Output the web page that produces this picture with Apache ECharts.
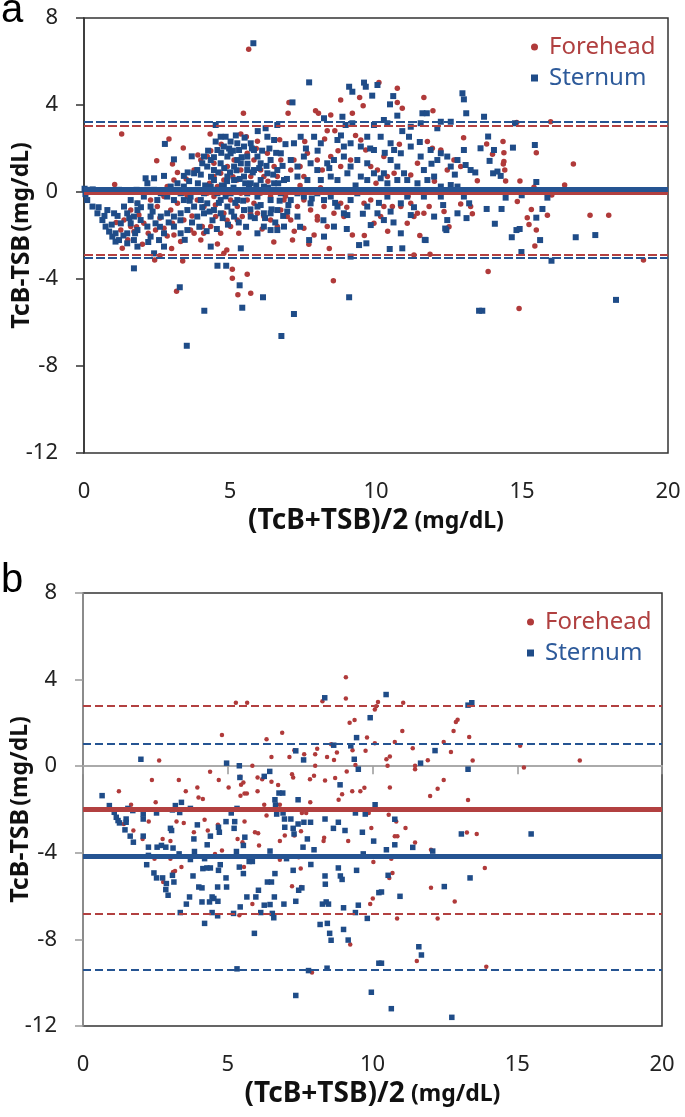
<!DOCTYPE html>
<html>
<head>
<meta charset="utf-8">
<script src="https://cdn.jsdelivr.net/npm/echarts@6/dist/echarts.min.js"></script>
<style>
  html, body { margin: 0; padding: 0; background: #fff; }
  #chart { width: 685px; height: 1117px; }
</style>
</head>
<body>
<div id="chart"></div>
<script>
// panel a: mean difference vs. mean value, all infants
var foreheadA = [
  [1.29, 2.67], [1.05, 0.34], [5.46, 3.62], [2.91, 2.44], [3.40, 2.02], [2.49, 1.44], [3.03, 1.29], [4.32, 2.67],
  [4.34, 1.90], [5.37, 2.67], [5.94, 2.33], [5.56, 2.54], [1.31, -2.59], [2.42, -3.13], [2.60, -2.93], [3.38, -3.17],
  [3.17, -4.56], [3.31, -2.28], [4.89, -2.67], [4.79, -2.82], [5.08, -3.55], [5.08, -3.97], [5.59, -3.78], [5.71, -4.66],
  [5.27, -4.72], [4.57, -2.39], [5.64, 6.56],
  [1.37, -1.29], [1.60, -1.59], [1.26, -1.75], [1.71, -1.82], [1.88, -1.06], [2.05, -1.44], [2.28, -1.13], [2.45, -1.75],
  [2.74, -1.67], [2.85, -2.02], [3.03, -1.44], [3.08, -1.98], [3.42, -1.29], [3.65, -1.75], [3.77, -1.90], [4.00, -2.21],
  [4.05, -1.59], [4.34, -1.59], [4.51, -1.13], [4.68, -1.90], [4.79, -0.98], [5.02, -1.59], [5.25, -1.29], [5.42, -1.13],
  [5.94, -0.98], [6.16, -1.13], [6.39, -1.29], [6.62, -1.59], [6.74, -0.83],
  [3.42, -0.06], [3.54, -0.21], [3.77, 0.02], [3.88, -0.37], [4.11, -0.67], [4.22, -0.06], [4.45, -0.21], [4.57, 0.25],
  [4.79, 0.02], [5.02, -0.37], [5.25, -0.67], [5.37, -0.06], [5.59, -0.37], [5.82, -0.52], [6.05, -0.06], [6.39, -0.21],
  [6.62, 0.09], [6.85, -0.37],
  [3.77, 1.01], [4.00, 1.47], [4.22, 1.63], [4.45, 1.32], [4.68, 0.86], [4.91, 1.17], [5.14, 1.47], [5.37, 1.01],
  [5.59, 1.78], [5.82, 1.47], [6.05, 1.01], [6.28, 1.78], [6.51, 1.17], [6.74, 1.47], [4.45, 0.71], [4.79, 0.55],
  [5.25, 0.55], [5.71, 0.71], [6.16, 0.71], [6.62, 0.71],
  [2.05, 0.09], [2.28, -0.37], [2.51, -0.67], [2.74, -0.21], [2.97, -0.83], [3.20, -0.52], [1.83, -0.52], [1.60, -0.83],
  [2.85, 0.25], [3.08, 0.55], [0.30, 0.02], [0.55, 0.08],
  [3.50, 0.60], [3.70, -1.10], [3.90, 1.70], [4.10, -1.90], [4.30, 0.40], [4.50, -0.60], [4.70, 2.20], [4.90, -1.30],
  [5.10, 0.70], [5.30, -1.90], [5.50, 0.10], [5.70, -1.00], [5.90, 2.00], [6.10, -1.70], [6.30, 0.50], [6.50, -2.30],
  [6.70, 2.40], [6.90, -0.20], [2.20, -1.90], [2.60, -1.20], [3.00, -2.60], [3.20, 0.90], [2.00, -2.40], [1.80, -1.60],
  [1.50, -2.20], [1.10, -1.40], [7.20, -1.80], [7.40, 0.30], [7.70, -2.40], [8.10, 0.20], [8.40, -2.60], [8.70, 1.90],
  [9.00, -0.70], [9.30, 2.60], [9.60, -2.00], [10.00, 0.40], [10.40, -1.80], [10.80, 2.20], [11.10, -0.20], [11.50, -2.00],
  [12.00, 0.50], [12.50, -1.60], [13.00, 2.50], [13.30, -1.00],
  [7.02, 4.12], [6.99, 3.62], [7.93, 3.74], [8.03, 3.62], [8.79, 4.23], [9.44, 4.35], [9.56, 3.97], [10.10, 5.03],
  [10.73, 4.77], [10.73, 4.12], [10.90, 3.85], [11.64, 4.35], [11.95, 3.74], [8.45, 3.54], [9.19, 3.62], [8.59, 2.82],
  [8.33, 2.82], [8.24, 2.44],
  [7.56, 2.32], [7.65, 1.78], [7.19, 1.47], [7.08, 1.01], [7.40, 1.17], [7.53, 0.71], [7.99, 1.47], [8.16, 1.01],
  [8.45, 1.63], [8.79, 1.17], [9.13, 1.47], [9.48, 2.39], [9.65, 1.93], [9.82, 1.17], [10.05, 1.01], [10.27, 1.63],
  [10.39, 0.71], [10.62, 0.86], [11.19, 0.78], [11.42, 1.32], [11.76, 2.32], [11.93, 2.01], [12.22, 1.93], [12.44, 1.01],
  [12.67, 1.47], [12.90, 1.17], [13.47, 0.52],
  [6.96, -1.13], [7.08, -1.29], [7.31, -0.67], [7.53, -0.37], [7.76, -0.83], [7.99, -1.13], [8.22, -0.67], [8.33, -1.59],
  [8.56, -0.98], [8.79, -0.52], [8.90, -1.13], [9.19, -1.98], [9.59, -0.52], [9.82, -0.37], [9.93, -1.44], [10.16, -1.13],
  [10.27, -0.67], [10.56, -0.67], [10.85, -0.67], [11.07, -1.44], [11.19, -0.52], [11.30, -1.13], [11.42, -0.98], [11.64, -0.98],
  [11.82, -0.67], [12.33, -0.90], [12.90, -0.55], [13.24, -0.67], [7.14, -2.21], [7.53, -1.67], [7.88, -1.98], [7.99, -1.29],
  [8.54, -4.08], [11.85, -2.86], [11.30, -2.90],
  [13.79, 2.21], [14.35, 2.32], [13.99, 1.73], [14.38, 1.81], [14.38, 1.40], [14.36, 1.29], [14.41, 1.01], [14.44, 0.51],
  [14.93, 0.51], [15.49, 1.81], [15.41, 0.22], [16.46, 0.32], [16.76, 1.29], [14.82, 3.19], [15.98, 3.23], [14.84, -0.44],
  [15.32, -0.80], [15.18, -1.18], [15.24, -1.49], [15.49, -1.75], [15.87, -1.07], [15.44, -2.48], [16.02, -0.14], [17.33, -1.07],
  [17.97, -1.07], [19.16, -3.13], [13.84, -3.66], [14.90, -5.36], [14.78, 0.02]
];
var sternumA = [
  [5.80, 6.84], [3.52, -7.07], [4.12, -5.46], [3.28, -4.38], [5.33, -4.29], [5.42, -5.32], [6.13, -4.84], [6.76, -6.62],
  [1.71, -3.51], [4.57, -3.39], [4.87, -3.39], [0.02, 0.15], [0.10, 0.10], [0.20, 0.05], [0.30, 0.12], [0.05, -0.10],
  [2.77, 2.21], [3.08, 1.50], [3.69, 1.64], [2.11, 0.63], [2.40, 0.63], [2.74, 0.74], [3.42, 0.74], [3.77, 0.86],
  [4.05, 1.32], [4.34, 1.47], [4.51, 2.32], [4.68, 2.54], [4.85, 2.54], [5.02, 2.32], [5.25, 2.24], [5.31, 1.93],
  [5.48, 2.09], [5.71, 2.24], [5.59, 1.63], [5.94, 1.63], [6.28, 2.54], [6.51, 2.39], [6.62, 3.08], [6.22, 2.93], [4.51, 3.08],
  [0.11, -0.37], [0.29, -0.67], [0.46, -0.98], [0.63, -1.29], [0.74, -1.59], [0.86, -1.82], [0.97, -2.05], [1.08, -2.28],
  [1.20, -2.21], [0.80, -0.83], [1.03, -0.98], [1.37, -0.67], [1.48, -0.98], [1.71, -1.13], [1.83, -0.83], [1.26, -1.44],
  [1.60, -1.44], [1.94, -1.29], [2.17, -1.59], [1.08, -1.90], [1.48, -1.90], [1.83, -1.75], [2.28, -1.13], [2.45, -1.44],
  [2.63, -1.13], [2.85, -0.98], [3.08, -1.13], [3.31, -0.98], [1.48, -2.36], [1.71, -2.21], [1.83, -2.51], [2.28, -2.05],
  [2.57, -2.21], [2.74, -1.90], [3.08, -1.59], [3.31, -1.90], [3.54, -1.75], [2.74, -2.51], [2.40, -2.82], [4.34, -2.51],
  [5.37, -2.59], [5.94, -1.90], [6.16, -1.59], [6.39, -1.75], [6.62, -1.75], [6.85, -1.59],
  [3.31, -0.06], [3.42, -0.37], [3.65, -0.21], [3.77, -0.67], [3.88, 0.09], [4.00, -0.37], [4.11, -0.06], [4.22, -0.52],
  [4.34, 0.25], [4.45, 0.55], [4.57, -0.06], [4.68, -0.37], [4.79, 0.25], [4.91, 0.71], [5.02, -0.06], [5.14, 0.55],
  [5.25, -0.37], [5.37, 0.09], [5.48, 0.71], [5.59, -0.06], [5.71, 0.40], [5.82, 1.01], [5.94, -0.21], [6.05, 0.55],
  [6.16, 0.25], [6.28, 0.86], [6.39, -0.37], [6.51, 0.40], [6.62, 1.01], [6.74, -0.06], [6.85, 0.55], [3.54, -0.83],
  [3.88, -1.13], [4.11, -0.98], [4.45, -0.83], [4.68, -0.98], [4.91, -0.67], [5.14, -1.13], [5.48, -0.83], [5.71, -1.13],
  [5.94, -0.67], [6.16, -0.98], [6.39, -0.98], [6.62, -0.83], [4.45, 1.01], [4.68, 1.32], [4.91, 1.63], [5.14, 1.17],
  [5.37, 1.32], [5.59, 1.01], [5.82, 1.93], [6.05, 1.32], [6.39, 1.47], [6.74, 1.78], [4.57, 1.93], [4.79, 2.09],
  [5.02, 1.78], [5.25, 1.47], [3.88, 1.01], [4.11, 1.63], [4.22, 1.17], [2.63, -0.06], [2.85, -0.21], [2.97, 0.25],
  [3.08, -0.37], [3.20, 0.40], [2.28, -0.67], [2.51, -0.37], [2.05, -0.21], [1.83, -0.52], [1.60, -0.37], [2.17, 0.40],
  [3.42, 0.25],
  [3.60, 0.50], [3.70, -1.40], [3.90, 0.40], [3.95, -1.60], [4.00, 0.80], [4.05, -0.70], [4.15, 0.30], [4.20, -1.80],
  [4.25, 1.90], [4.30, -0.90], [4.35, 0.70], [4.40, -1.30], [4.45, 1.60], [4.50, 0.10], [4.55, -1.70], [4.60, 0.90],
  [4.62, -0.50], [4.70, 1.80], [4.72, 0.30], [4.75, -1.20], [4.80, 1.10], [4.85, -0.20], [4.90, 0.50], [4.93, -1.50],
  [4.97, 2.00], [5.00, 0.90], [5.05, -0.90], [5.10, 1.90], [5.12, 0.20], [5.18, -0.50], [5.20, 2.60], [5.22, 1.00],
  [5.30, -1.40], [5.33, 0.60], [5.40, 1.60], [5.45, -0.40], [5.50, 2.50], [5.52, 0.40], [5.55, -1.60], [5.60, 1.30],
  [5.65, 0.20], [5.70, -0.80], [5.75, 2.00], [5.78, 0.90], [5.85, -1.20], [5.90, 0.30], [5.95, 2.80], [6.00, 1.10],
  [6.05, -0.60], [6.10, 1.90], [6.12, 0.00], [6.20, -1.20], [6.25, 1.20], [6.30, 0.20], [6.35, 2.00], [6.42, -0.80],
  [6.48, 0.80], [6.55, -1.40], [6.58, 1.80], [6.65, 0.40], [6.70, -0.40], [6.80, 1.20], [6.82, -1.10], [6.90, 2.20],
  [6.95, 0.60], [7.00, -0.60], [3.30, -1.30], [3.45, -2.20], [3.55, 0.90], [3.62, -0.40], [2.90, -1.40], [2.60, -1.60],
  [2.35, -0.90], [2.20, -2.30], [1.95, -0.70], [1.75, -1.90], [1.55, -1.20], [1.35, -2.00], [1.15, -1.10], [0.95, -1.50],
  [0.70, -1.10], [0.50, -0.70], [0.60, 0.05], [0.90, 0.05], [1.20, 0.10], [1.50, 0.05], [1.80, 0.10], [2.10, 0.08],
  [2.40, 0.10], [7.40, -1.60], [7.60, 2.00], [7.80, -0.30], [8.00, 1.90], [8.20, -1.30], [8.40, 1.10], [8.60, -0.50],
  [8.80, 2.60], [9.00, -1.70], [9.30, 0.30], [9.55, -1.00], [9.80, 2.00], [10.10, -0.50], [10.30, 1.80], [10.60, -1.40],
  [10.90, 2.80], [11.30, -0.70], [11.50, 2.30], [11.90, 1.30], [12.30, -0.60], [12.70, 0.80], [13.10, -1.20], [13.40, 0.90],
  [7.71, 5.04], [9.08, 4.84], [9.19, 4.61], [9.59, 5.03], [9.65, 4.84], [10.05, 4.92], [9.87, 4.43], [10.59, 4.41],
  [10.48, 4.03], [10.73, 3.51], [11.59, 3.62], [11.74, 3.62], [12.96, 4.54], [13.01, 4.26], [13.09, 3.62], [7.14, 4.12],
  [8.85, 3.46], [8.22, 3.39], [8.96, 3.08], [9.19, 3.16], [9.93, 3.08], [10.27, 3.31], [10.39, 3.16], [11.19, 3.00],
  [11.53, 3.16], [12.22, 3.23], [12.56, 3.23], [12.10, 2.93], [13.58, 2.01], [13.01, 1.93],
  [7.19, 2.24], [7.42, 2.54], [7.88, 2.54], [8.11, 2.24], [8.68, 2.39], [8.90, 2.09], [9.13, 2.24], [9.48, 2.09],
  [9.70, 2.54], [9.93, 1.93], [10.16, 2.54], [10.50, 2.24], [10.62, 1.93], [10.85, 1.78], [11.13, 2.54], [11.19, 2.09],
  [11.53, 1.63], [11.87, 1.93], [12.10, 1.47], [12.22, 1.78], [12.44, 1.63], [12.56, 1.17], [12.79, 1.47], [13.07, 1.24],
  [13.24, 1.01], [7.08, 1.47], [7.31, 1.17], [7.53, 1.63], [7.76, 1.32], [7.99, 1.01], [8.33, 1.32], [8.56, 1.47],
  [8.90, 1.63], [9.13, 1.17], [9.36, 1.47], [9.70, 1.32], [9.93, 0.86], [10.27, 0.86], [10.50, 1.47], [10.73, 1.17],
  [10.96, 0.86], [11.64, 1.01], [11.99, 0.71], [7.31, 0.71], [7.65, 0.55], [8.11, 0.55], [8.45, 0.71], [8.68, 0.55],
  [9.02, 0.86], [9.48, 0.71], [9.70, 0.55], [10.16, 0.63], [10.39, 0.40], [10.73, 0.55], [11.07, 0.55], [11.42, 0.40],
  [11.76, 0.55], [12.22, 0.25], [12.56, 0.32], [12.79, 0.25],
  [7.08, -0.37], [7.31, -0.06], [7.53, -0.21], [7.76, -0.52], [7.99, -0.06], [8.22, -0.37], [8.45, -0.21], [8.68, -0.67],
  [8.90, -0.98], [9.13, -0.37], [9.36, -0.06], [9.70, -0.67], [10.05, -0.98], [10.39, -0.21], [10.50, -0.90], [10.85, -0.52],
  [11.07, -0.21], [11.19, -1.06], [11.64, -0.21], [11.99, -1.13], [12.22, -0.21], [12.44, -1.29], [12.79, -0.98], [13.01, -0.21],
  [13.19, -0.52], [6.96, -0.90], [7.31, -1.13], [7.71, -2.21], [8.22, -2.05], [8.56, -1.59], [9.02, -1.06], [9.82, -1.52],
  [10.27, -1.29], [10.85, -1.90], [10.90, -2.59], [11.70, -2.21], [12.41, -1.75], [9.42, -2.44], [9.67, -2.36], [9.13, -2.97],
  [9.08, -4.84], [7.19, -5.61], [13.53, -5.46], [13.64, -5.46], [11.67, -2.20], [12.37, -1.68], [10.47, -2.62],
  [13.70, 3.46], [14.76, 3.16], [13.84, 2.55], [14.04, 1.93], [13.89, 1.43], [14.01, 0.86], [14.16, 0.94], [14.27, 0.74],
  [14.69, 2.04], [15.44, 2.16], [15.49, 0.46], [14.44, -0.26], [14.99, -0.15], [15.87, -0.26], [13.79, -0.78], [14.30, -0.78],
  [15.70, -0.78], [14.07, -1.46], [15.49, -1.18], [14.81, -1.75], [14.92, -1.70], [14.65, -2.08], [15.62, -2.21], [14.98, -2.76],
  [16.01, -3.16], [16.84, -2.08], [17.51, -1.98], [18.22, -4.96]
];
// upper limit, mean, lower limit of agreement
var foreheadLinesA = [3.05, -0.02, -2.87];
var sternumLinesA = [3.25, 0.13, -3.03];

// panel b
var foreheadB = [
  [1.24, -1.16], [1.66, -1.78], [1.71, -2.05], [1.74, -2.97], [2.27, -2.56], [2.06, -3.36], [2.38, -0.64], [2.51, -1.67],
  [2.63, 0.26], [2.75, -3.36], [3.02, -4.27], [3.02, -3.46], [3.23, -2.56], [3.31, -0.64], [3.40, -4.66], [3.48, -2.62],
  [3.55, -1.16], [3.18, -4.84], [3.83, -3.05], [3.95, -0.98], [3.99, -1.44], [4.14, -1.52], [4.20, -2.47], [4.31, -2.97],
  [4.39, -0.26], [4.56, -4.05], [4.69, -0.64], [4.80, 1.44], [4.66, -2.70], [4.80, -3.89], [5.03, -0.98], [5.28, 2.93],
  [5.67, 2.93], [5.46, -0.86], [5.54, -0.75], [5.58, -1.26], [5.66, -1.26], [5.34, -3.36], [5.58, -2.56], [5.44, -1.36],
  [5.43, -0.49], [5.51, -3.51], [5.56, -4.66], [5.85, 0.02], [6.03, -0.52], [6.03, -1.16], [5.94, -3.05], [6.05, -3.10],
  [5.85, -6.37], [6.08, -3.66], [6.19, -0.60], [6.26, -1.78], [6.34, 1.24], [6.34, -2.28], [6.51, 0.43], [6.51, -0.72],
  [6.74, -0.87], [6.88, 1.55], [6.80, -1.78], [6.80, -3.46], [6.80, -4.32], [6.97, -3.20], [7.13, 0.43], [7.22, -0.37],
  [7.26, -0.52], [7.30, -3.20], [7.30, 0.74], [7.45, -4.20], [7.52, -4.73], [7.53, -3.00], [7.56, -2.16], [7.64, 0.55],
  [7.71, -2.16], [7.84, -0.60], [7.85, -1.67], [7.98, -0.44], [8.02, 0.55], [8.02, 0.02], [8.09, 0.81], [8.27, 3.00],
  [8.31, -3.45], [8.33, -3.31], [8.36, -0.66], [8.43, 0.43], [8.57, 1.01], [8.67, 0.29], [8.71, -0.54], [8.77, 0.63],
  [8.83, -1.55], [8.95, -1.29], [9.08, 4.11], [9.08, 3.13], [9.11, -0.24], [9.16, -3.46], [9.21, 2.01], [9.30, -1.16],
  [9.31, 0.74], [9.38, 2.13], [9.41, 0.05], [9.58, -1.16], [9.72, -0.99], [9.76, 0.71], [9.81, 1.32], [9.87, -2.16],
  [9.92, -6.37], [9.96, -2.85], [10.01, -6.11], [10.03, -4.43], [10.08, 2.62], [10.08, 1.06], [10.13, 2.77], [10.19, 2.97],
  [7.22, -5.55], [7.53, -5.58], [9.23, -8.23], [7.91, -9.53], [5.40, -6.88], [3.11, -4.89], [2.77, -5.35], [2.47, -4.27],
  [1.41, -2.67],
  [11.06, 2.93], [11.03, 1.63], [10.77, 1.12], [10.48, 0.32], [10.60, 0.45], [10.52, 0.02], [10.60, -0.98], [11.39, 0.83],
  [11.47, 0.02], [11.47, -0.14], [11.91, 0.28], [12.46, 1.12], [12.71, 0.66], [12.80, 1.63], [12.88, 2.04], [12.94, 2.15],
  [13.34, 1.35], [13.46, 0.26], [13.30, -1.56], [12.46, -0.64], [12.25, -1.04], [11.99, -1.38], [10.56, -2.24], [10.82, -2.56],
  [11.14, -2.85], [10.77, -3.23], [10.86, -3.23], [11.47, -3.52], [10.65, -4.27], [10.69, -4.93], [10.58, -5.16], [12.02, -3.86],
  [12.02, -5.62], [12.84, -6.25], [13.26, -3.06], [13.60, -3.13], [13.88, -4.70], [10.85, -7.03], [12.25, -7.03], [11.53, -9.00],
  [13.93, -9.26], [15.10, 0.94], [15.23, -0.06], [17.16, 0.26]
];
var sternumB = [
  [0.66, -1.36], [0.91, -1.82], [1.08, -2.13], [1.15, -2.36], [1.21, -2.51], [1.26, -2.62], [1.49, -2.44], [1.49, -2.59],
  [1.45, -2.94], [1.63, -3.23], [1.74, -3.51], [1.55, -1.95], [1.72, -2.05], [2.00, 0.32], [2.08, -2.21], [2.08, -2.44],
  [2.08, -3.23], [2.26, -3.74], [2.26, -4.12], [2.20, -4.55], [2.45, -4.93], [2.54, -5.16], [2.54, -2.16], [2.56, -3.74],
  [2.75, -5.16], [2.71, -3.66], [2.86, -3.74], [2.88, -5.42], [2.86, -5.70], [2.94, -5.96], [3.02, -2.87], [3.06, -2.97],
  [3.09, -2.02], [3.11, -3.78], [3.09, -5.04], [3.14, -5.35], [3.19, -1.82], [3.34, -2.14], [3.40, -1.67], [3.32, -4.05],
  [3.36, -6.76], [3.57, -6.37], [3.71, -1.95], [3.68, -6.04], [3.71, -4.31], [3.83, -3.36], [3.85, -3.94], [3.95, -2.71],
  [3.80, -5.07], [4.00, -5.58], [4.11, -5.62], [4.11, -6.27], [4.20, -4.27], [4.14, -4.73], [4.20, -7.26], [4.29, -3.63],
  [4.40, -3.23], [4.28, -4.70], [4.40, -4.70], [4.37, -6.27], [4.46, -6.04], [4.52, -6.11], [4.46, -6.76], [4.65, -6.91],
  [4.66, -6.24], [4.68, -2.82], [4.71, -3.05], [4.65, -5.58], [4.68, -4.81], [4.74, -4.55], [4.94, -2.56], [4.96, 0.14],
  [4.94, -5.16], [4.96, -5.58], [5.12, -2.16], [5.24, -2.56], [5.22, -2.87], [5.20, -6.80], [5.32, -9.36], [5.30, -3.94],
  [5.32, -1.95], [5.40, 0.02], [5.42, -0.52], [5.40, -4.66], [5.43, -6.50], [5.54, -3.66], [5.59, -3.28], [5.54, -4.96],
  [5.66, -6.04], [5.74, -4.40], [5.85, -4.40], [5.92, -7.72], [5.97, -6.04], [6.06, -5.73], [6.14, -6.76], [6.26, -6.42],
  [6.26, -0.47], [6.37, -5.35], [6.51, -5.35], [6.45, -0.24], [6.46, -3.92], [6.46, -6.39], [6.54, -6.80], [6.59, -7.00],
  [6.61, -6.04], [6.63, -4.96], [6.65, -1.79], [6.69, -2.21], [6.77, -1.24], [6.90, -1.24], [6.63, -1.55], [6.91, -2.16],
  [6.94, -6.37], [6.96, -2.44], [6.97, -2.82], [7.03, -4.27], [7.18, -2.44], [7.26, -2.87], [7.29, -3.13], [7.26, -4.81],
  [7.35, -6.24], [7.35, -10.59], [7.35, 0.71], [7.43, -1.55], [7.43, -2.67], [7.45, -5.73], [7.56, -5.62], [7.62, 0.29],
  [7.63, -2.59], [7.86, -2.59], [7.75, -3.36], [7.60, -3.74], [7.98, -3.86], [7.87, -4.54], [7.79, -9.44], [8.19, -7.31],
  [8.27, -6.37], [8.36, -2.44], [8.36, -5.07], [8.37, -5.45], [8.40, -6.27], [8.44, -7.26], [8.48, -6.37], [8.43, -9.33],
  [8.52, -7.72], [8.57, -8.04], [8.35, 3.16], [8.66, 0.97], [8.65, -2.87], [8.82, -2.59], [8.88, -0.86], [8.82, -4.70],
  [8.89, -5.07], [8.95, -5.23], [9.00, -6.54], [9.00, -7.54], [9.05, -2.97], [9.16, -8.03], [9.25, 0.94], [9.37, 0.32],
  [9.45, 1.32], [9.41, -2.16], [9.45, -4.81], [9.41, -6.76], [9.51, -0.14], [9.51, -6.42], [9.65, -3.05], [9.68, -4.05],
  [9.75, -2.21], [9.82, -7.03], [9.92, 2.24], [9.96, -10.44], [10.04, -3.46], [10.09, -1.78], [10.22, -5.84], [10.22, -9.10],
  [10.47, 3.31], [10.77, -2.45], [10.77, -3.63], [10.48, -3.86], [11.39, -3.75], [11.66, 0.14], [12.16, 0.72], [12.08, -3.92],
  [12.48, -5.56], [10.95, -6.01], [10.54, -5.04], [10.31, -5.81], [10.31, -9.10], [11.60, -8.34], [11.69, -8.72], [10.65, -11.20],
  [12.74, -11.60], [13.07, -3.13], [13.30, -0.14], [13.30, 2.82], [13.43, 2.93], [13.37, -5.16], [15.48, -3.13]
];
var foreheadLinesB = [2.80, -2.00, -6.82];
var sternumLinesB = [1.05, -4.15, -9.38];

var xTicks = [0, 20, 5];     // min, max, interval
var yTicks = [-12, 8, 4];

var RED = '#b03a3a';
var BLUE = '#1f4c88';
var FONT = 'Noto Sans, DejaVu Sans, sans-serif';

function limitLines(vals, color, meanWidth, dash) {
  return {
    symbol: 'none', silent: true, animation: false,
    label: { show: false },
    data: [
      { yAxis: vals[0], lineStyle: { color: color, width: 2, type: dash } },
      { yAxis: vals[1], lineStyle: { color: color, width: meanWidth, type: 'solid' } },
      { yAxis: vals[2], lineStyle: { color: color, width: 2, type: dash } }
    ]
  };
}

function yAxisFor(grid, lineColor) {
  return {
    gridIndex: grid, type: 'value', min: yTicks[0], max: yTicks[1], interval: yTicks[2],
    name: '{b|TcB-TSB} {s|(mg/dL)}', nameLocation: 'middle', nameGap: 50, nameRotate: 90,
    nameMoveOverlap: false,
    nameTextStyle: {
      color: '#111', fontFamily: FONT,
      rich: { b: { fontSize: 25, fontWeight: 'bold', fontFamily: FONT }, s: { fontSize: 23, fontWeight: 'bold', fontFamily: FONT } }
    },
    axisLine: { show: true, onZero: false, lineStyle: { color: lineColor, width: 1.5 } },
    axisTick: { show: true, length: 8, lineStyle: { color: lineColor, width: 1.5 } },
    axisLabel: { color: '#222', fontSize: 22, fontFamily: FONT, margin: 26 },
    splitLine: { show: false }
  };
}

function xAxisFor(grid) {
  return {
    gridIndex: grid, type: 'value', min: xTicks[0], max: xTicks[1], interval: xTicks[2],
    name: '{b|(TcB+TSB)/2}  {s|(mg/dL)}', nameLocation: 'middle', nameGap: 54,
    nameMoveOverlap: false,
    nameTextStyle: {
      color: '#111', fontFamily: FONT,
      rich: { b: { fontSize: 28, fontWeight: 'bold', fontFamily: FONT }, s: { fontSize: 23, fontWeight: 'bold', fontFamily: FONT } }
    },
    axisLine: { show: false, onZero: false },
    axisTick: { show: false },
    axisLabel: { color: '#222', fontSize: 22, fontFamily: FONT, margin: 28 },
    splitLine: { show: false }
  };
}

function legendFor(top, left) {
  return {
    orient: 'vertical', left: left, top: top, itemGap: 7, itemWidth: 7, itemHeight: 7,
    selectedMode: false,
    formatter: function (name) { return name === 'Forehead' ? '{r|Forehead}' : '{s|Sternum}'; },
    textStyle: {
      fontFamily: FONT, fontSize: 24, lineHeight: 24,
      rich: {
        r: { color: '#b04040', fontSize: 24, fontFamily: FONT, padding: [0, 0, 0, 6] },
        s: { color: '#2d5a9a', fontSize: 24, fontFamily: FONT, padding: [0, 0, 0, 6] }
      }
    },
    data: [{ name: 'Forehead', icon: 'circle' }, { name: 'Sternum', icon: 'rect' }]
  };
}

var chart = echarts.init(document.getElementById('chart'));
chart.setOption({
  animation: false,
  backgroundColor: '#fff',
  title: [
    { text: 'a', left: 1, top: -9, padding: 0, textStyle: { fontSize: 40, fontWeight: 'normal', color: '#000', fontFamily: 'Liberation Sans, Arial, sans-serif' } },
    { text: 'b', left: 1, top: 561, padding: 0, textStyle: { fontSize: 40, fontWeight: 'normal', color: '#000', fontFamily: 'Liberation Sans, Arial, sans-serif' } }
  ],
  legend: [legendFor(30, 526), legendFor(605, 522)],
  grid: [
    { left: 84, top: 18, width: 584, height: 435, outerBoundsMode: 'none', containLabel: false, show: true, borderColor: '#333', borderWidth: 1.5, backgroundColor: 'transparent' },
    { left: 83, top: 593, width: 579, height: 433, outerBoundsMode: 'none', containLabel: false, show: true, borderColor: '#333', borderWidth: 1.5, backgroundColor: 'transparent' }
  ],
  xAxis: [
    xAxisFor(0),
    xAxisFor(1),
    {
      // zero line of panel b with its small ticks
      gridIndex: 1, type: 'value', position: 'top', min: xTicks[0], max: xTicks[1], interval: xTicks[2],
      axisLine: { show: true, onZero: true, lineStyle: { color: '#aaa', width: 2 } },
      axisTick: { show: true, inside: true, length: 8, lineStyle: { color: '#999', width: 1.5 } },
      axisLabel: { show: false }, splitLine: { show: false }
    }
  ],
  yAxis: [yAxisFor(0, '#333'), yAxisFor(1, '#999')],
  series: [
    {
      name: 'Forehead', type: 'scatter', xAxisIndex: 0, yAxisIndex: 0, data: foreheadA,
      symbol: 'circle', symbolSize: 5.5, itemStyle: { color: RED, opacity: 1 },
      markLine: limitLines(foreheadLinesA, '#b24040', 4, [9, 3])
    },
    {
      name: 'Sternum', type: 'scatter', xAxisIndex: 0, yAxisIndex: 0, data: sternumA,
      symbol: 'rect', symbolSize: 6, itemStyle: { color: BLUE, opacity: 1 },
      markLine: limitLines(sternumLinesA, '#255492', 5, [9, 3])
    },
    {
      name: 'Forehead', type: 'scatter', xAxisIndex: 1, yAxisIndex: 1, data: foreheadB,
      symbol: 'circle', symbolSize: 4.5, itemStyle: { color: RED, opacity: 1 },
      markLine: limitLines(foreheadLinesB, '#b24040', 5, [8, 4])
    },
    {
      name: 'Sternum', type: 'scatter', xAxisIndex: 1, yAxisIndex: 1, data: sternumB,
      symbol: 'rect', symbolSize: 5.5, itemStyle: { color: BLUE, opacity: 1 },
      markLine: limitLines(sternumLinesB, '#255492', 5, [8, 4])
    }
  ]
});
</script>
</body>
</html>
